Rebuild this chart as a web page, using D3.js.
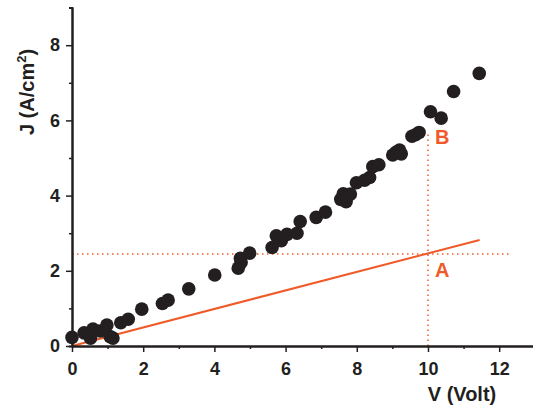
<!DOCTYPE html>
<html>
<head>
<meta charset="utf-8">
<script src="https://cdn.jsdelivr.net/npm/d3@7"></script>
<style>
  body { margin: 0; background: #fff; }
  text { font-family: "Liberation Sans", Arial, sans-serif; font-weight: bold; }
</style>
</head>
<body>
<script>
var width = 533,
    height = 409;

// measured J-V points
var voltage = [0.0, 0.34, 0.52, 0.59, 0.79, 0.98, 1.07, 1.15, 1.37, 1.58, 1.96, 2.54, 2.70, 3.28,
  4.01, 4.67, 4.75, 4.73, 4.99, 5.62, 5.74, 5.88, 6.04, 6.32, 6.41, 6.86, 7.12, 7.55, 7.62, 7.70,
  7.82, 7.99, 8.22, 8.36, 8.45, 8.62, 9.01, 9.10, 9.20, 9.25, 9.55, 9.65, 9.75, 10.07, 10.37, 10.72, 11.44];
var current = [0.23, 0.35, 0.21, 0.45, 0.40, 0.56, 0.25, 0.21, 0.62, 0.71, 0.98, 1.13, 1.22, 1.52,
  1.89, 2.07, 2.22, 2.33, 2.47, 2.62, 2.93, 2.80, 2.97, 3.00, 3.31, 3.42, 3.56, 3.90, 4.05, 3.84,
  4.04, 4.34, 4.41, 4.48, 4.77, 4.82, 5.08, 5.15, 5.21, 5.11, 5.58, 5.62, 5.68, 6.23, 6.06, 6.77, 7.25];

// ohmic line (A) and guide lines
var lineV = [0, 11.45];
var lineJ = [0, 2.82];
var guideJ = 2.45;        // horizontal dotted level
var guideJEnd = 12.3;     // where the horizontal guide stops
var guideV = 10;          // vertical dotted position
var guideVTop = 5.7;      // where the vertical guide stops

var xMajor = [0, 2, 4, 6, 8, 10, 12],
    xMinor = [1, 3, 5, 7, 9, 11];
var yMajor = [0, 2, 4, 6, 8],
    yMinor = [1, 3, 5, 7];

var orange = "#f05a28";

var svg = d3.select("body").append("svg")
  .attr("width", width)
  .attr("height", height);

var xScale = d3.scaleLinear().domain([0, 12.95]).range([72, 533]);
var yScale = d3.scaleLinear().domain([0, 9]).range([346, 7.6]);

//guides
svg.append("line")
  .attr("x1", xScale(0)).attr("x2", xScale(guideJEnd))
  .attr("y1", yScale(guideJ)).attr("y2", yScale(guideJ))
  .attr("stroke", orange).attr("stroke-width", 1.5)
  .attr("stroke-dasharray", "1.5,3.5");
svg.append("line")
  .attr("x1", xScale(guideV)).attr("x2", xScale(guideV))
  .attr("y1", yScale(0)).attr("y2", yScale(guideVTop))
  .attr("stroke", orange).attr("stroke-width", 1.5)
  .attr("stroke-dasharray", "1.5,3.5");

//fit line
svg.append("line")
  .attr("x1", xScale(lineV[0])).attr("y1", yScale(lineJ[0]))
  .attr("x2", xScale(lineV[1])).attr("y2", yScale(lineJ[1]))
  .attr("stroke", orange).attr("stroke-width", 2);

//axes
svg.append("g")
  .attr("transform", "translate(0," + yScale(0) + ")")
  .call(d3.axisBottom(xScale).tickValues(xMajor).tickSize(6).tickSizeOuter(0).tickPadding(10));
svg.append("g")
  .attr("transform", "translate(0," + yScale(0) + ")")
  .call(d3.axisBottom(xScale).tickValues(xMinor).tickSize(3).tickSizeOuter(0).tickFormat(""));

svg.append("g")
  .attr("transform", "translate(" + xScale(0) + ",0)")
  .call(d3.axisLeft(yScale).tickValues(yMajor).tickSize(6).tickSizeOuter(3).tickPadding(6));
svg.append("g")
  .attr("transform", "translate(" + xScale(0) + ",0)")
  .call(d3.axisLeft(yScale).tickValues(yMinor).tickSize(3).tickSizeOuter(0).tickFormat(""));

svg.selectAll(".domain").attr("stroke", "#231f20").attr("stroke-width", 2);
svg.selectAll(".tick line").attr("stroke", "#231f20").attr("stroke-width", 1.5);
svg.selectAll(".tick text")
  .attr("fill", "#231f20")
  .style("font-size", "18px")
  .style("font-family", "'Liberation Sans', Arial, sans-serif")
  .style("font-weight", "bold");

//points
svg.append("g").selectAll("circle")
  .data(voltage)
  .enter().append("circle")
    .attr("cx", function(d) { return xScale(d); })
    .attr("cy", function(d, i) { return yScale(current[i]); })
    .attr("r", 6.8)
    .attr("fill", "#231f20");

//axis titles
svg.append("text")
  .attr("x", 462).attr("y", 401)
  .attr("text-anchor", "middle")
  .attr("fill", "#231f20")
  .style("font-size", "20px")
  .text("V (Volt)");

var yTitle = svg.append("text")
  .attr("transform", "translate(34,92) rotate(-90)")
  .attr("text-anchor", "middle")
  .attr("fill", "#231f20")
  .style("font-size", "20px");
yTitle.append("tspan").text("J (A/cm");
yTitle.append("tspan").attr("dy", -8).style("font-size", "13px").text("2");
yTitle.append("tspan").attr("dy", 8).text(")");

//labels
svg.append("text")
  .attr("x", 435).attr("y", 277)
  .attr("fill", orange)
  .style("font-size", "20px")
  .text("A");
svg.append("text")
  .attr("x", 435).attr("y", 144)
  .attr("fill", orange)
  .style("font-size", "20px")
  .text("B");
</script>
</body>
</html>
